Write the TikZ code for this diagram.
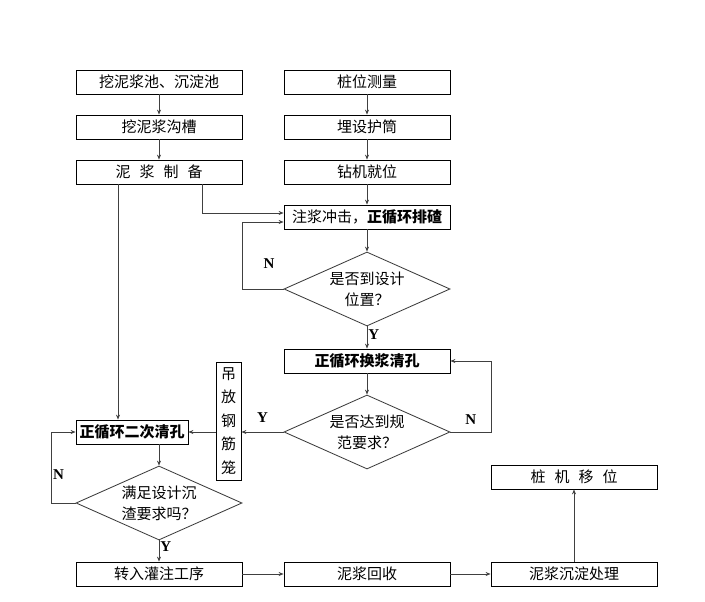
\documentclass[tikz,border=0pt]{standalone}
\usepackage{fontspec}
\setmainfont{Liberation Serif}
\newfontfamily\cjk{Noto Sans CJK SC}
\usepackage{tikz}
\usetikzlibrary{arrows.meta,positioning,shapes.geometric}

\begin{document}
\begin{tikzpicture}[
  x=1pt, y=-1pt,
  box/.style={draw=black, line width=0.8pt, fill=white, align=center,
              minimum width=166pt, minimum height=24pt, inner sep=1pt,
              font=\cjk\fontsize{15}{16}\selectfont},
  dec/.style={draw=black!80, line width=0.8pt, diamond, shape aspect=2.25,
              minimum width=166pt, minimum height=74pt, inner sep=0pt,
              align=center, font=\cjk\fontsize{15}{21}\selectfont},
  fl/.style={-{Stealth[length=5pt,width=4pt]}, draw=black!75, line width=0.8pt},
  yn/.style={font=\bfseries\fontsize{15}{16}\selectfont, inner sep=1pt},
]
\useasboundingbox (0,0) rectangle (705,602);

\def\cL{159}  % left column
\def\cR{367}  % middle column
\def\cS{574}  % right column
\def\rA{82}   % rows of the two start columns
\def\rB{127}
\def\rC{172}
\def\rI{574}  % bottom row

% ============ left column ==================================================
\node[box] (pit)   at (\cL,\rA) {挖泥浆池、沉淀池};
\node[box] (ditch) at (\cL,\rB) {挖泥浆沟槽};
\node[box] (prep)  at (\cL,\rC) {泥\hspace{0.6em}浆\hspace{0.6em}制\hspace{0.6em}备};

% ============ middle column ================================================
\node[box] (survey) at (\cR,\rA) {桩位测量};
\node[box] (casing) at (\cR,\rB) {埋设护筒};
\node[box] (rig)    at (\cR,\rC) {钻机就位};
\node[box] (grout)  at (\cR,217) {注浆冲击，\textbf{正循环排碴}};
\node[dec] (dec1)   at (\cR,289) {是否到设计\\位置？};
\node[box] (swap)   at (\cR,361) {\textbf{正循环换浆清孔}};
\node[dec] (dec2)   at (\cR,432) {是否达到规\\范要求？};

% ============ cage and second cleaning =====================================
\node[box, minimum width=25pt, minimum height=118pt, inner sep=0pt,
      font=\cjk\fontsize{15}{23.5}\selectfont] (cage) at (228.5,421)
      {吊\\放\\钢\\筋\\笼};
\node[box, minimum width=112pt] (clean2) at (132,432) {\textbf{正循环二次清孔}};
\node[dec] (dec3) at (\cL,503) {满足设计沉\\渣要求吗？};

% ============ bottom row ===================================================
\node[box] (pour)    at (\cL,\rI) {转入灌注工序};
\node[box] (recover) at (\cR,\rI) {泥浆回收};
\node[box] (settle)  at (\cS,\rI) {泥浆沉淀处理};
\node[box] (move)    at (\cS,477) {桩\hspace{0.6em}机\hspace{0.6em}移\hspace{0.6em}位};

% ============ flows ========================================================
\draw[fl] (pit)    -- (ditch);
\draw[fl] (ditch)  -- (prep);
\draw[fl] (survey) -- (casing);
\draw[fl] (casing) -- (rig);
\draw[fl] (rig)    -- (grout);
\draw[fl] ([xshift=43pt]prep.south) |- ([yshift=4pt]grout.west);
\draw[fl] (grout)  -- (dec1);
\draw[fl] (dec1.south) -- node[yn, right, pos=0.35] {Y} (swap.north);
\draw[fl] (swap)   -- (dec2);
\draw[fl] ([xshift=-41pt]prep.south) -- ([xshift=-41pt]prep.south |- clean2.north);
\draw[fl] (dec2.west) -- node[yn, above=8pt] {Y} (cage.east |- dec2.west);
\draw[fl] (cage.west |- clean2.east) -- (clean2.east);
\draw[fl] (clean2.south -| dec3.north) -- (dec3.north);
\draw[fl] (dec3.south) -- node[yn, right, pos=0.3] {Y} (pour.north);
\draw[fl] (pour)    -- (recover);
\draw[fl] (recover) -- (settle);
\draw[fl] (settle)  -- (move);

% ============ the three loops ==============================================
\draw[fl] (dec1.west) -- ++(-41,0) |- ([yshift=-5pt]grout.west);
\node[yn] (n1) at (269,264) {N};
\draw[fl] (dec2.east) -- node[yn, above=6pt] {N} ++(41,0) |- (swap.east);
\draw[fl] (dec3.west) -- ++(-24,0) |- node[yn, right, pos=0.2] {N} (clean2.west);

\end{tikzpicture}
\end{document}
